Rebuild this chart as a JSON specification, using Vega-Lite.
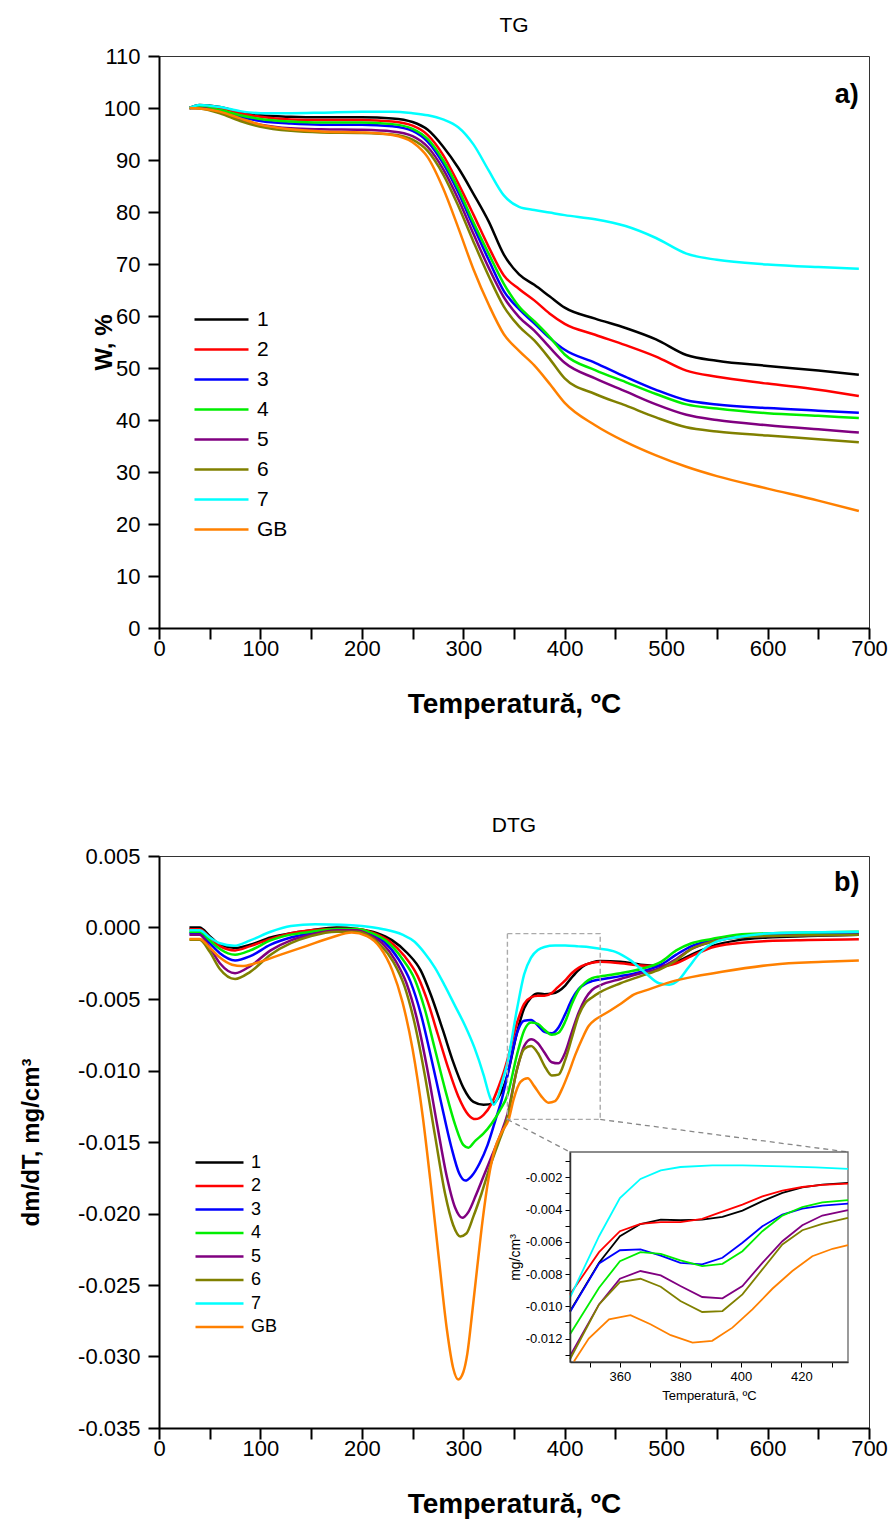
{
"$schema": "https://vega.github.io/schema/vega-lite/v6.json",
"background": "white",
"padding": {"left": 18, "top": 14, "right": 5, "bottom": 2},
"config": {
  "font": "Liberation Sans",
  "view": {"stroke": "#333", "strokeWidth": 1},
  "axis": {"grid": false, "labelColor": "#000", "titleColor": "#000", "domainColor": "#000", "tickColor": "#000", "labelFlush": false, "labelOverlap": false},
  "title": {"color": "#000", "fontWeight": "normal", "fontSize": 21, "offset": 9},
  "legend": {"padding": 0, "labelColor": "#000"}
},
"datasets": {
  "tg": [
    {"T":30,"1":100,"2":100,"3":100,"4":100,"5":100,"6":100,"7":100,"GB":100},
    {"T":40,"1":100.6,"2":100.4,"3":100.1,"4":100.2,"5":100.0,"6":99.9,"7":100.6,"GB":99.9},
    {"T":60,"1":100.2,"2":100.0,"3":99.4,"4":99.6,"5":99.2,"6":99.0,"7":100.2,"GB":99.3},
    {"T":80,"1":99.2,"2":99.0,"3":98.3,"4":98.6,"5":97.8,"6":97.5,"7":99.4,"GB":98.0},
    {"T":100,"1":98.6,"2":98.3,"3":97.5,"4":97.9,"5":96.8,"6":96.4,"7":99.0,"GB":96.8},
    {"T":130,"1":98.3,"2":97.8,"3":97.0,"4":97.4,"5":96.1,"6":95.6,"7":99.0,"GB":95.9},
    {"T":160,"1":98.2,"2":97.7,"3":96.8,"4":97.2,"5":95.9,"6":95.3,"7":99.1,"GB":95.5},
    {"T":200,"1":98.2,"2":97.7,"3":96.8,"4":97.2,"5":95.8,"6":95.2,"7":99.3,"GB":95.3},
    {"T":230,"1":98.0,"2":97.4,"3":96.5,"4":96.9,"5":95.5,"6":94.9,"7":99.3,"GB":94.8},
    {"T":250,"1":97.3,"2":96.6,"3":95.6,"4":96.0,"5":94.6,"6":93.9,"7":99.0,"GB":93.4},
    {"T":265,"1":95.8,"2":94.8,"3":93.5,"4":94.0,"5":92.5,"6":91.7,"7":98.6,"GB":90.5},
    {"T":280,"1":92.6,"2":91.0,"3":89.4,"4":90.0,"5":88.3,"6":87.3,"7":97.8,"GB":84.6},
    {"T":295,"1":88.5,"2":85.5,"3":83.8,"4":84.5,"5":82.5,"6":81.2,"7":96.3,"GB":77.0},
    {"T":310,"1":83.5,"2":79.5,"3":77.2,"4":78.0,"5":75.8,"6":74.3,"7":93.0,"GB":69.0},
    {"T":325,"1":78.2,"2":73.3,"3":70.8,"4":72.0,"5":69.3,"6":67.7,"7":88.0,"GB":62.2},
    {"T":340,"1":71.8,"2":67.8,"3":64.8,"4":66.2,"5":63.6,"6":61.8,"7":83.2,"GB":56.5},
    {"T":355,"1":68.0,"2":65.2,"3":61.3,"4":61.8,"5":59.8,"6":58.0,"7":81.0,"GB":53.3},
    {"T":370,"1":66.0,"2":63.0,"3":58.6,"4":59.0,"5":57.2,"6":55.3,"7":80.4,"GB":50.5},
    {"T":385,"1":63.8,"2":60.5,"3":55.8,"4":56.0,"5":54.0,"6":51.8,"7":79.9,"GB":47.0},
    {"T":400,"1":61.6,"2":58.5,"3":53.5,"4":52.6,"5":51.0,"6":48.0,"7":79.4,"GB":43.3},
    {"T":430,"1":59.5,"2":56.4,"3":51.0,"4":49.6,"5":48.0,"6":45.0,"7":78.6,"GB":39.0},
    {"T":460,"1":57.7,"2":54.4,"3":48.3,"4":47.3,"5":45.5,"6":42.8,"7":77.3,"GB":35.8},
    {"T":490,"1":55.5,"2":52.2,"3":45.8,"4":45.0,"5":43.0,"6":40.5,"7":75.0,"GB":33.2},
    {"T":520,"1":52.5,"2":49.5,"3":43.8,"4":43.0,"5":41.0,"6":38.6,"7":72.0,"GB":31.0},
    {"T":550,"1":51.4,"2":48.3,"3":43.0,"4":42.2,"5":40.0,"6":37.8,"7":70.8,"GB":29.2},
    {"T":600,"1":50.4,"2":47.0,"3":42.3,"4":41.3,"5":39.0,"6":37.0,"7":69.9,"GB":26.8},
    {"T":650,"1":49.5,"2":45.8,"3":41.8,"4":40.8,"5":38.2,"6":36.3,"7":69.4,"GB":24.5},
    {"T":690,"1":48.7,"2":44.6,"3":41.4,"4":40.4,"5":37.6,"6":35.7,"7":69.1,"GB":22.5}
  ],
  "dtg": [
    {"s":"1","T":30,"v":0},{"s":"1","T":40,"v":0},{"s":"1","T":50,"v":-0.0006},{"s":"1","T":60,"v":-0.0012},{"s":"1","T":75,"v":-0.00144},{"s":"1","T":90,"v":-0.0012},{"s":"1","T":110,"v":-0.0007},{"s":"1","T":130,"v":-0.0004},{"s":"1","T":150,"v":-0.0002},{"s":"1","T":175,"v":0},{"s":"1","T":195,"v":-0.0001},{"s":"1","T":215,"v":-0.0004},{"s":"1","T":230,"v":-0.0009},{"s":"1","T":245,"v":-0.0018},{"s":"1","T":258,"v":-0.003},{"s":"1","T":268,"v":-0.0047},{"s":"1","T":280,"v":-0.0072},{"s":"1","T":290,"v":-0.0094},{"s":"1","T":300,"v":-0.0112},{"s":"1","T":310,"v":-0.0122},{"s":"1","T":320,"v":-0.0124},{"s":"1","T":330,"v":-0.0123},{"s":"1","T":336,"v":-0.0117},{"s":"1","T":340,"v":-0.0111},{"s":"1","T":343.5,"v":-0.0103},{"s":"1","T":353.1,"v":-0.0073},{"s":"1","T":360,"v":-0.00565},{"s":"1","T":366.8,"v":-0.0049},{"s":"1","T":373.5,"v":-0.00462},{"s":"1","T":380,"v":-0.00466},{"s":"1","T":387.2,"v":-0.00462},{"s":"1","T":393.9,"v":-0.00445},{"s":"1","T":400.5,"v":-0.00406},{"s":"1","T":407.1,"v":-0.00348},{"s":"1","T":413.7,"v":-0.00297},{"s":"1","T":420.3,"v":-0.00262},{"s":"1","T":426.9,"v":-0.00245},{"s":"1","T":435,"v":-0.00235},{"s":"1","T":455,"v":-0.0024},{"s":"1","T":475,"v":-0.0026},{"s":"1","T":495,"v":-0.0027},{"s":"1","T":510,"v":-0.0024},{"s":"1","T":525,"v":-0.0019},{"s":"1","T":545,"v":-0.0013},{"s":"1","T":570,"v":-0.0009},{"s":"1","T":600,"v":-0.0007},{"s":"1","T":640,"v":-0.0006},{"s":"1","T":690,"v":-0.0005},
    {"s":"2","T":30,"v":-0.00012},{"s":"2","T":40,"v":-0.00012},{"s":"2","T":50,"v":-0.0007},{"s":"2","T":60,"v":-0.0013},{"s":"2","T":75,"v":-0.0016},{"s":"2","T":90,"v":-0.0013},{"s":"2","T":110,"v":-0.0008},{"s":"2","T":130,"v":-0.0004},{"s":"2","T":150,"v":-0.0002},{"s":"2","T":175,"v":-0.0001},{"s":"2","T":195,"v":-0.0001},{"s":"2","T":212,"v":-0.0004},{"s":"2","T":228,"v":-0.001},{"s":"2","T":242,"v":-0.002},{"s":"2","T":255,"v":-0.0034},{"s":"2","T":265,"v":-0.0052},{"s":"2","T":275,"v":-0.0075},{"s":"2","T":285,"v":-0.0098},{"s":"2","T":295,"v":-0.0118},{"s":"2","T":305,"v":-0.0131},{"s":"2","T":312,"v":-0.0134},{"s":"2","T":320,"v":-0.0131},{"s":"2","T":328,"v":-0.0123},{"s":"2","T":335,"v":-0.0111},{"s":"2","T":340,"v":-0.0101},{"s":"2","T":343.5,"v":-0.00926},{"s":"2","T":353.1,"v":-0.00664},{"s":"2","T":360,"v":-0.00534},{"s":"2","T":366.8,"v":-0.00489},{"s":"2","T":373.5,"v":-0.00478},{"s":"2","T":380,"v":-0.00478},{"s":"2","T":387.2,"v":-0.00458},{"s":"2","T":392.7,"v":-0.00421},{"s":"2","T":400.5,"v":-0.00369},{"s":"2","T":407.1,"v":-0.00318},{"s":"2","T":413.7,"v":-0.00282},{"s":"2","T":420.3,"v":-0.0026},{"s":"2","T":426.9,"v":-0.00247},{"s":"2","T":435,"v":-0.00239},{"s":"2","T":455,"v":-0.0025},{"s":"2","T":475,"v":-0.00265},{"s":"2","T":495,"v":-0.0027},{"s":"2","T":510,"v":-0.0025},{"s":"2","T":525,"v":-0.002},{"s":"2","T":545,"v":-0.0014},{"s":"2","T":570,"v":-0.0011},{"s":"2","T":600,"v":-0.00095},{"s":"2","T":640,"v":-0.00088},{"s":"2","T":690,"v":-0.00082},
    {"s":"3","T":30,"v":-0.0004},{"s":"3","T":40,"v":-0.0004},{"s":"3","T":50,"v":-0.0011},{"s":"3","T":60,"v":-0.0018},{"s":"3","T":75,"v":-0.0023},{"s":"3","T":90,"v":-0.002},{"s":"3","T":110,"v":-0.0012},{"s":"3","T":130,"v":-0.0007},{"s":"3","T":150,"v":-0.0004},{"s":"3","T":175,"v":-0.0002},{"s":"3","T":195,"v":-0.0002},{"s":"3","T":208,"v":-0.0004},{"s":"3","T":222,"v":-0.001},{"s":"3","T":236,"v":-0.0022},{"s":"3","T":248,"v":-0.0038},{"s":"3","T":258,"v":-0.006},{"s":"3","T":268,"v":-0.009},{"s":"3","T":278,"v":-0.0122},{"s":"3","T":288,"v":-0.0153},{"s":"3","T":296,"v":-0.0172},{"s":"3","T":302,"v":-0.0177},{"s":"3","T":308,"v":-0.0174},{"s":"3","T":316,"v":-0.0165},{"s":"3","T":324,"v":-0.0152},{"s":"3","T":332,"v":-0.0134},{"s":"3","T":338,"v":-0.012},{"s":"3","T":343.5,"v":-0.01035},{"s":"3","T":353.1,"v":-0.00734},{"s":"3","T":360,"v":-0.00652},{"s":"3","T":366.8,"v":-0.00647},{"s":"3","T":373.5,"v":-0.00685},{"s":"3","T":380,"v":-0.0073},{"s":"3","T":387.2,"v":-0.0074},{"s":"3","T":393.9,"v":-0.00699},{"s":"3","T":400.5,"v":-0.00606},{"s":"3","T":407.1,"v":-0.00503},{"s":"3","T":413.7,"v":-0.00431},{"s":"3","T":420.3,"v":-0.00394},{"s":"3","T":426.9,"v":-0.00375},{"s":"3","T":435,"v":-0.00363},{"s":"3","T":455,"v":-0.0034},{"s":"3","T":475,"v":-0.0031},{"s":"3","T":495,"v":-0.0026},{"s":"3","T":510,"v":-0.0019},{"s":"3","T":525,"v":-0.0013},{"s":"3","T":545,"v":-0.0009},{"s":"3","T":570,"v":-0.0006},{"s":"3","T":600,"v":-0.0005},{"s":"3","T":640,"v":-0.00045},{"s":"3","T":690,"v":-0.0004},
    {"s":"4","T":30,"v":-0.0003},{"s":"4","T":40,"v":-0.0003},{"s":"4","T":50,"v":-0.0009},{"s":"4","T":60,"v":-0.0015},{"s":"4","T":75,"v":-0.0019},{"s":"4","T":90,"v":-0.0016},{"s":"4","T":110,"v":-0.0009},{"s":"4","T":130,"v":-0.0005},{"s":"4","T":150,"v":-0.0003},{"s":"4","T":175,"v":-0.0001},{"s":"4","T":195,"v":-0.0001},{"s":"4","T":210,"v":-0.0004},{"s":"4","T":225,"v":-0.001},{"s":"4","T":240,"v":-0.0022},{"s":"4","T":252,"v":-0.0036},{"s":"4","T":262,"v":-0.0057},{"s":"4","T":272,"v":-0.0085},{"s":"4","T":282,"v":-0.0113},{"s":"4","T":292,"v":-0.0138},{"s":"4","T":300,"v":-0.0152},{"s":"4","T":305,"v":-0.0154},{"s":"4","T":312,"v":-0.0149},{"s":"4","T":320,"v":-0.0144},{"s":"4","T":328,"v":-0.0137},{"s":"4","T":336,"v":-0.0128},{"s":"4","T":343.5,"v":-0.01173},{"s":"4","T":353.1,"v":-0.00885},{"s":"4","T":360,"v":-0.0072},{"s":"4","T":366.8,"v":-0.00664},{"s":"4","T":373.5,"v":-0.00674},{"s":"4","T":380,"v":-0.00715},{"s":"4","T":387.2,"v":-0.0075},{"s":"4","T":393.9,"v":-0.00736},{"s":"4","T":400.5,"v":-0.00658},{"s":"4","T":407.1,"v":-0.00534},{"s":"4","T":413.7,"v":-0.00437},{"s":"4","T":420.3,"v":-0.00384},{"s":"4","T":426.9,"v":-0.00355},{"s":"4","T":435,"v":-0.00342},{"s":"4","T":455,"v":-0.0032},{"s":"4","T":475,"v":-0.0029},{"s":"4","T":495,"v":-0.0024},{"s":"4","T":510,"v":-0.0016},{"s":"4","T":525,"v":-0.0011},{"s":"4","T":545,"v":-0.0008},{"s":"4","T":570,"v":-0.0005},{"s":"4","T":600,"v":-0.0004},{"s":"4","T":640,"v":-0.00035},{"s":"4","T":690,"v":-0.0003},
    {"s":"5","T":30,"v":-0.0005},{"s":"5","T":40,"v":-0.0005},{"s":"5","T":50,"v":-0.0014},{"s":"5","T":60,"v":-0.0025},{"s":"5","T":75,"v":-0.0032},{"s":"5","T":90,"v":-0.0027},{"s":"5","T":110,"v":-0.0016},{"s":"5","T":130,"v":-0.0009},{"s":"5","T":150,"v":-0.0005},{"s":"5","T":175,"v":-0.0002},{"s":"5","T":195,"v":-0.0002},{"s":"5","T":207,"v":-0.0005},{"s":"5","T":220,"v":-0.0011},{"s":"5","T":233,"v":-0.0023},{"s":"5","T":244,"v":-0.0039},{"s":"5","T":254,"v":-0.0063},{"s":"5","T":264,"v":-0.0097},{"s":"5","T":274,"v":-0.0137},{"s":"5","T":284,"v":-0.0175},{"s":"5","T":292,"v":-0.0196},{"s":"5","T":299,"v":-0.0203},{"s":"5","T":305,"v":-0.0199},{"s":"5","T":312,"v":-0.0188},{"s":"5","T":320,"v":-0.0174},{"s":"5","T":328,"v":-0.016},{"s":"5","T":336,"v":-0.0146},{"s":"5","T":343.5,"v":-0.01307},{"s":"5","T":353.1,"v":-0.00988},{"s":"5","T":360,"v":-0.00829},{"s":"5","T":366.8,"v":-0.00781},{"s":"5","T":373.5,"v":-0.00808},{"s":"5","T":380,"v":-0.00874},{"s":"5","T":387.2,"v":-0.00942},{"s":"5","T":393.9,"v":-0.0095},{"s":"5","T":400.5,"v":-0.00874},{"s":"5","T":407.1,"v":-0.0073},{"s":"5","T":413.7,"v":-0.00596},{"s":"5","T":420.3,"v":-0.00497},{"s":"5","T":426.9,"v":-0.00437},{"s":"5","T":435,"v":-0.00404},{"s":"5","T":455,"v":-0.0036},{"s":"5","T":475,"v":-0.0032},{"s":"5","T":495,"v":-0.0028},{"s":"5","T":510,"v":-0.0022},{"s":"5","T":525,"v":-0.0015},{"s":"5","T":545,"v":-0.001},{"s":"5","T":570,"v":-0.0007},{"s":"5","T":600,"v":-0.0006},{"s":"5","T":640,"v":-0.00055},{"s":"5","T":690,"v":-0.0005},
    {"s":"6","T":30,"v":-0.00086},{"s":"6","T":40,"v":-0.00086},{"s":"6","T":50,"v":-0.0017},{"s":"6","T":60,"v":-0.0029},{"s":"6","T":75,"v":-0.0036},{"s":"6","T":90,"v":-0.0031},{"s":"6","T":110,"v":-0.0019},{"s":"6","T":130,"v":-0.0011},{"s":"6","T":150,"v":-0.0006},{"s":"6","T":175,"v":-0.0003},{"s":"6","T":195,"v":-0.0003},{"s":"6","T":205,"v":-0.0005},{"s":"6","T":218,"v":-0.0012},{"s":"6","T":231,"v":-0.0024},{"s":"6","T":242,"v":-0.0041},{"s":"6","T":252,"v":-0.0067},{"s":"6","T":262,"v":-0.0103},{"s":"6","T":272,"v":-0.0145},{"s":"6","T":282,"v":-0.0186},{"s":"6","T":290,"v":-0.0208},{"s":"6","T":297,"v":-0.0216},{"s":"6","T":303,"v":-0.0214},{"s":"6","T":310,"v":-0.0202},{"s":"6","T":318,"v":-0.0186},{"s":"6","T":326,"v":-0.0168},{"s":"6","T":335,"v":-0.015},{"s":"6","T":343.5,"v":-0.01328},{"s":"6","T":353.1,"v":-0.00988},{"s":"6","T":360,"v":-0.0085},{"s":"6","T":366.8,"v":-0.00829},{"s":"6","T":373.5,"v":-0.00878},{"s":"6","T":380,"v":-0.00967},{"s":"6","T":387.2,"v":-0.01035},{"s":"6","T":393.9,"v":-0.01029},{"s":"6","T":400.5,"v":-0.00926},{"s":"6","T":407.1,"v":-0.00771},{"s":"6","T":413.7,"v":-0.00616},{"s":"6","T":420.3,"v":-0.00528},{"s":"6","T":426.9,"v":-0.00489},{"s":"6","T":435,"v":-0.00452},{"s":"6","T":455,"v":-0.0039},{"s":"6","T":475,"v":-0.0034},{"s":"6","T":495,"v":-0.0029},{"s":"6","T":510,"v":-0.0023},{"s":"6","T":525,"v":-0.0015},{"s":"6","T":545,"v":-0.001},{"s":"6","T":570,"v":-0.0007},{"s":"6","T":600,"v":-0.0006},{"s":"6","T":640,"v":-0.00055},{"s":"6","T":690,"v":-0.0005},
    {"s":"7","T":30,"v":-0.0002},{"s":"7","T":40,"v":-0.0002},{"s":"7","T":50,"v":-0.0007},{"s":"7","T":60,"v":-0.0011},{"s":"7","T":74,"v":-0.00128},{"s":"7","T":90,"v":-0.0009},{"s":"7","T":110,"v":-0.0003},{"s":"7","T":130,"v":0.0001},{"s":"7","T":154,"v":0.00023},{"s":"7","T":180,"v":0.0002},{"s":"7","T":200,"v":0.0001},{"s":"7","T":220,"v":-0.0001},{"s":"7","T":240,"v":-0.0005},{"s":"7","T":252,"v":-0.001},{"s":"7","T":262,"v":-0.0018},{"s":"7","T":272,"v":-0.0028},{"s":"7","T":282,"v":-0.0041},{"s":"7","T":292,"v":-0.0055},{"s":"7","T":302,"v":-0.0069},{"s":"7","T":311,"v":-0.0084},{"s":"7","T":320,"v":-0.0103},{"s":"7","T":326,"v":-0.0118},{"s":"7","T":330,"v":-0.0124},{"s":"7","T":334,"v":-0.0119},{"s":"7","T":338,"v":-0.0109},{"s":"7","T":343.5,"v":-0.00946},{"s":"7","T":353.1,"v":-0.00565},{"s":"7","T":360,"v":-0.00328},{"s":"7","T":366.8,"v":-0.0021},{"s":"7","T":373.5,"v":-0.00157},{"s":"7","T":380,"v":-0.00136},{"s":"7","T":390.5,"v":-0.00126},{"s":"7","T":400.5,"v":-0.00126},{"s":"7","T":413.7,"v":-0.00132},{"s":"7","T":424.7,"v":-0.00138},{"s":"7","T":435,"v":-0.00148},{"s":"7","T":450,"v":-0.0017},{"s":"7","T":465,"v":-0.0023},{"s":"7","T":480,"v":-0.0032},{"s":"7","T":493,"v":-0.0039},{"s":"7","T":503,"v":-0.004},{"s":"7","T":512,"v":-0.0037},{"s":"7","T":522,"v":-0.0028},{"s":"7","T":533,"v":-0.0018},{"s":"7","T":549,"v":-0.001},{"s":"7","T":572,"v":-0.00065},{"s":"7","T":605,"v":-0.0004},{"s":"7","T":690,"v":-0.0003},
    {"s":"GB","T":30,"v":-0.0008},{"s":"GB","T":40,"v":-0.0008},{"s":"GB","T":50,"v":-0.0014},{"s":"GB","T":60,"v":-0.0021},{"s":"GB","T":72,"v":-0.0026},{"s":"GB","T":82,"v":-0.0027},{"s":"GB","T":95,"v":-0.0025},{"s":"GB","T":120,"v":-0.0019},{"s":"GB","T":145,"v":-0.0013},{"s":"GB","T":170,"v":-0.0007},{"s":"GB","T":190,"v":-0.00035},{"s":"GB","T":205,"v":-0.0006},{"s":"GB","T":218,"v":-0.0014},{"s":"GB","T":230,"v":-0.003},{"s":"GB","T":240,"v":-0.0052},{"s":"GB","T":250,"v":-0.0085},{"s":"GB","T":260,"v":-0.0132},{"s":"GB","T":268,"v":-0.018},{"s":"GB","T":276,"v":-0.0232},{"s":"GB","T":284,"v":-0.0282},{"s":"GB","T":290,"v":-0.0308},{"s":"GB","T":295,"v":-0.0316},{"s":"GB","T":300,"v":-0.0311},{"s":"GB","T":304,"v":-0.0298},{"s":"GB","T":309,"v":-0.0268},{"s":"GB","T":314,"v":-0.0236},{"s":"GB","T":319,"v":-0.0205},{"s":"GB","T":325,"v":-0.0175},{"s":"GB","T":331,"v":-0.0155},{"s":"GB","T":338,"v":-0.0143},{"s":"GB","T":344.8,"v":-0.01342},{"s":"GB","T":349.7,"v":-0.012},{"s":"GB","T":356.4,"v":-0.0108},{"s":"GB","T":363.5,"v":-0.01054},{"s":"GB","T":370.1,"v":-0.01111},{"s":"GB","T":376.8,"v":-0.01179},{"s":"GB","T":384,"v":-0.01225},{"s":"GB","T":390.5,"v":-0.01214},{"s":"GB","T":397.2,"v":-0.01132},{"s":"GB","T":403.8,"v":-0.01019},{"s":"GB","T":410.4,"v":-0.00891},{"s":"GB","T":417,"v":-0.00781},{"s":"GB","T":423.6,"v":-0.00689},{"s":"GB","T":430.3,"v":-0.00643},{"s":"GB","T":435.4,"v":-0.00621},{"s":"GB","T":445,"v":-0.0058},{"s":"GB","T":456,"v":-0.0053},{"s":"GB","T":468,"v":-0.0047},{"s":"GB","T":480,"v":-0.0044},{"s":"GB","T":510,"v":-0.0037},{"s":"GB","T":555,"v":-0.0031},{"s":"GB","T":605,"v":-0.0026},{"s":"GB","T":655,"v":-0.0024},{"s":"GB","T":690,"v":-0.0023}
  ],
  "ins": [
    {"s":"1","T":343.5,"v":-0.0103},{"s":"1","T":353.1,"v":-0.0073},{"s":"1","T":360,"v":-0.00565},{"s":"1","T":366.8,"v":-0.0049},{"s":"1","T":373.5,"v":-0.00462},{"s":"1","T":380,"v":-0.00466},{"s":"1","T":387.2,"v":-0.00462},{"s":"1","T":393.9,"v":-0.00445},{"s":"1","T":400.5,"v":-0.00406},{"s":"1","T":407.1,"v":-0.00348},{"s":"1","T":413.7,"v":-0.00297},{"s":"1","T":420.3,"v":-0.00262},{"s":"1","T":426.9,"v":-0.00245},{"s":"1","T":435.4,"v":-0.00235},
    {"s":"2","T":343.5,"v":-0.00926},{"s":"2","T":353.1,"v":-0.00664},{"s":"2","T":360,"v":-0.00534},{"s":"2","T":366.8,"v":-0.00489},{"s":"2","T":373.5,"v":-0.00478},{"s":"2","T":380,"v":-0.00478},{"s":"2","T":387.2,"v":-0.00458},{"s":"2","T":392.7,"v":-0.00421},{"s":"2","T":400.5,"v":-0.00369},{"s":"2","T":407.1,"v":-0.00318},{"s":"2","T":413.7,"v":-0.00282},{"s":"2","T":420.3,"v":-0.0026},{"s":"2","T":426.9,"v":-0.00247},{"s":"2","T":435.4,"v":-0.00239},
    {"s":"3","T":343.5,"v":-0.01035},{"s":"3","T":353.1,"v":-0.00734},{"s":"3","T":360,"v":-0.00652},{"s":"3","T":366.8,"v":-0.00647},{"s":"3","T":373.5,"v":-0.00685},{"s":"3","T":380,"v":-0.0073},{"s":"3","T":387.2,"v":-0.0074},{"s":"3","T":393.9,"v":-0.00699},{"s":"3","T":400.5,"v":-0.00606},{"s":"3","T":407.1,"v":-0.00503},{"s":"3","T":413.7,"v":-0.00431},{"s":"3","T":420.3,"v":-0.00394},{"s":"3","T":426.9,"v":-0.00375},{"s":"3","T":435.4,"v":-0.00363},
    {"s":"4","T":343.5,"v":-0.01173},{"s":"4","T":353.1,"v":-0.00885},{"s":"4","T":360,"v":-0.0072},{"s":"4","T":366.8,"v":-0.00664},{"s":"4","T":373.5,"v":-0.00674},{"s":"4","T":380,"v":-0.00715},{"s":"4","T":387.2,"v":-0.0075},{"s":"4","T":393.9,"v":-0.00736},{"s":"4","T":400.5,"v":-0.00658},{"s":"4","T":407.1,"v":-0.00534},{"s":"4","T":413.7,"v":-0.00437},{"s":"4","T":420.3,"v":-0.00384},{"s":"4","T":426.9,"v":-0.00355},{"s":"4","T":435.4,"v":-0.00342},
    {"s":"5","T":343.5,"v":-0.01307},{"s":"5","T":353.1,"v":-0.00988},{"s":"5","T":360,"v":-0.00829},{"s":"5","T":366.8,"v":-0.00781},{"s":"5","T":373.5,"v":-0.00808},{"s":"5","T":380,"v":-0.00874},{"s":"5","T":387.2,"v":-0.00942},{"s":"5","T":393.9,"v":-0.0095},{"s":"5","T":400.5,"v":-0.00874},{"s":"5","T":407.1,"v":-0.0073},{"s":"5","T":413.7,"v":-0.00596},{"s":"5","T":420.3,"v":-0.00497},{"s":"5","T":426.9,"v":-0.00437},{"s":"5","T":435.4,"v":-0.00404},
    {"s":"6","T":343.5,"v":-0.01328},{"s":"6","T":353.1,"v":-0.00988},{"s":"6","T":360,"v":-0.0085},{"s":"6","T":366.8,"v":-0.00829},{"s":"6","T":373.5,"v":-0.00878},{"s":"6","T":380,"v":-0.00967},{"s":"6","T":387.2,"v":-0.01035},{"s":"6","T":393.9,"v":-0.01029},{"s":"6","T":400.5,"v":-0.00926},{"s":"6","T":407.1,"v":-0.00771},{"s":"6","T":413.7,"v":-0.00616},{"s":"6","T":420.3,"v":-0.00528},{"s":"6","T":426.9,"v":-0.00489},{"s":"6","T":435.4,"v":-0.00452},
    {"s":"7","T":343.5,"v":-0.00946},{"s":"7","T":353.1,"v":-0.00565},{"s":"7","T":360,"v":-0.00328},{"s":"7","T":366.8,"v":-0.0021},{"s":"7","T":373.5,"v":-0.00157},{"s":"7","T":380,"v":-0.00136},{"s":"7","T":390.5,"v":-0.00126},{"s":"7","T":400.5,"v":-0.00126},{"s":"7","T":413.7,"v":-0.00132},{"s":"7","T":424.7,"v":-0.00138},{"s":"7","T":435.4,"v":-0.00148},
    {"s":"GB","T":344.8,"v":-0.01342},{"s":"GB","T":349.7,"v":-0.012},{"s":"GB","T":356.4,"v":-0.0108},{"s":"GB","T":363.5,"v":-0.01054},{"s":"GB","T":370.1,"v":-0.01111},{"s":"GB","T":376.8,"v":-0.01179},{"s":"GB","T":384,"v":-0.01225},{"s":"GB","T":390.5,"v":-0.01214},{"s":"GB","T":397.2,"v":-0.01132},{"s":"GB","T":403.8,"v":-0.01019},{"s":"GB","T":410.4,"v":-0.00891},{"s":"GB","T":417,"v":-0.00781},{"s":"GB","T":423.6,"v":-0.00689},{"s":"GB","T":430.3,"v":-0.00643},{"s":"GB","T":435.4,"v":-0.00621}
  ]
},
"bounds": "flush",
"spacing": 228,
"resolve": {"scale": {"color": "independent"}, "legend": {"color": "independent"}},
"vconcat": [
  {
    "title": "TG",
    "width": 710,
    "height": 572,
    "layer": [
      {
        "data": {"name": "tg"},
        "transform": [{"fold": ["1","2","3","4","5","6","7","GB"], "as": ["s","W"]}],
        "mark": {"type": "line", "strokeWidth": 2.5, "interpolate": "monotone"},
        "encoding": {
          "x": {"field": "T", "type": "quantitative", "scale": {"domain": [0,700], "nice": false, "zero": false},
            "axis": {"title": "Temperatură, ºC", "values": [0,50,100,150,200,250,300,350,400,450,500,550,600,650,700],
              "labelExpr": "datum.value % 100 === 0 ? datum.label : ''",
              "tickSize": 11, "tickWidth": 2, "domainWidth": 2, "labelFontSize": 22, "labelPadding": -1,
              "titleFontSize": 28, "titleFontWeight": "bold", "titleX": 355, "titleY": 62, "zindex": 1,
              "encode": {"ticks": {"update": {"y2": {"signal": "datum.value % 100 === 0 ? 11 : 6"}}}}}},
          "y": {"field": "W", "type": "quantitative", "scale": {"domain": [0,110], "nice": false, "zero": false},
            "axis": {"title": "W, %", "values": [0,5,10,15,20,25,30,35,40,45,50,55,60,65,70,75,80,85,90,95,100,105,110],
              "labelExpr": "datum.value % 10 === 0 ? datum.label : ''",
              "tickSize": 11, "tickWidth": 2, "domainWidth": 2, "labelFontSize": 22, "labelPadding": 8,
              "titleFontSize": 24, "titleFontWeight": "bold", "titleX": -43, "titleY": 286, "zindex": 1,
              "encode": {"ticks": {"update": {"x2": {"signal": "datum.value % 10 === 0 ? -11 : -6"}}}}}},
          "color": {"field": "s", "type": "nominal",
            "scale": {"domain": ["1","2","3","4","5","6","7","GB"], "range": ["#000000","#ff0000","#0000ff","#00ee00","#800080","#808000","#00ffff","#ff8000"]},
            "legend": {"title": null, "orient": "none", "legendX": 34, "legendY": 253, "symbolType": "M-1,0H5", "symbolSize": 324, "symbolStrokeWidth": 2.5, "labelFontSize": 21, "labelOffset": 43, "rowPadding": 8}}
        }
      },
      {
        "data": {"values": [{}]},
        "mark": {"type": "text", "text": "a)", "fontSize": 27, "fontWeight": "bold", "align": "center", "baseline": "middle", "color": "#000"},
        "encoding": {
          "x": {"datum": 678, "type": "quantitative"},
          "y": {"datum": 102.5, "type": "quantitative"}
        }
      }
    ]
  },
  {
    "title": "DTG",
    "width": 710,
    "height": 572,
    "layer": [
      {
        "layer": [
          {
            "data": {"name": "dtg"},
            "mark": {"type": "line", "strokeWidth": 2.5, "interpolate": "monotone"},
            "encoding": {
              "x": {"field": "T", "type": "quantitative", "scale": {"domain": [0,700], "nice": false, "zero": false},
                "axis": {"title": "Temperatură, ºC", "values": [0,50,100,150,200,250,300,350,400,450,500,550,600,650,700],
                  "labelExpr": "datum.value % 100 === 0 ? datum.label : ''",
                  "tickSize": 11, "tickWidth": 2, "domainWidth": 2, "labelFontSize": 22, "labelPadding": -1,
                  "titleFontSize": 28, "titleFontWeight": "bold", "titleX": 355, "titleY": 62, "zindex": 1,
                  "encode": {"ticks": {"update": {"y2": {"signal": "datum.value % 100 === 0 ? 11 : 6"}}}}}},
              "y": {"field": "v", "type": "quantitative", "scale": {"domain": [-0.035,0.005], "nice": false, "zero": false},
                "axis": {"title": "dm/dT, mg/cm³", "values": [-0.035,-0.0325,-0.03,-0.0275,-0.025,-0.0225,-0.02,-0.0175,-0.015,-0.0125,-0.01,-0.0075,-0.005,-0.0025,0,0.0025,0.005],
                  "labelExpr": "round(datum.value*2000) % 2 === 0 ? replace(format(datum.value, '.3f'), '−', '-') : ''",
                  "tickSize": 11, "tickWidth": 2, "domainWidth": 2, "labelFontSize": 22, "labelPadding": 8,
                  "titleFontSize": 24, "titleFontWeight": "bold", "titleX": -116, "titleY": 286, "zindex": 1,
                  "encode": {"ticks": {"update": {"x2": {"signal": "round(datum.value*2000) % 2 === 0 ? -11 : -6"}}}}}},
              "color": {"field": "s", "type": "nominal",
                "scale": {"domain": ["1","2","3","4","5","6","7","GB"], "range": ["#000000","#ff0000","#0000ff","#00ee00","#800080","#808000","#00ffff","#ff8000"]},
                "legend": {"title": null, "orient": "none", "legendX": 35, "legendY": 297, "symbolType": "M-1,0H5", "symbolSize": 256, "symbolStrokeWidth": 2.5, "labelFontSize": 18, "labelOffset": 38, "rowPadding": 4.5}}
            }
          },
          {
            "data": {"values": [{}]},
            "mark": {"type": "rect", "fill": null, "fillOpacity": 0, "stroke": "#aaaaaa", "strokeWidth": 1.4, "strokeDash": [5,3]},
            "encoding": {
              "x": {"datum": 343.5, "type": "quantitative"},
              "x2": {"datum": 435},
              "y": {"datum": -0.00043, "type": "quantitative"},
              "y2": {"datum": -0.01342}
            }
          },
          {
            "data": {"values": [{}]},
            "mark": {"type": "rule", "stroke": "#888888", "strokeWidth": 1.3, "strokeDash": [5,4]},
            "encoding": {
              "x": {"datum": 343.5, "type": "quantitative"},
              "x2": {"datum": 405.2},
              "y": {"datum": -0.01342, "type": "quantitative"},
              "y2": {"datum": -0.0157}
            }
          },
          {
            "data": {"values": [{}]},
            "mark": {"type": "rule", "stroke": "#888888", "strokeWidth": 1.3, "strokeDash": [5,4]},
            "encoding": {
              "x": {"datum": 435, "type": "quantitative"},
              "x2": {"datum": 679.3},
              "y": {"datum": -0.01342, "type": "quantitative"},
              "y2": {"datum": -0.0157}
            }
          },
          {
            "data": {"values": [{}]},
            "mark": {"type": "text", "text": "b)", "fontSize": 27, "fontWeight": "bold", "align": "center", "baseline": "middle", "color": "#000"},
            "encoding": {
              "x": {"datum": 678, "type": "quantitative"},
              "y": {"datum": 0.0031, "type": "quantitative"}
            }
          }
        ]
      },
      {
        "layer": [
          {
            "data": {"values": [{}]},
            "mark": {"type": "rect", "fill": "white", "stroke": "#666666", "strokeWidth": 1.3},
            "encoding": {
              "x": {"datum": 343.5, "type": "quantitative", "scale": {"domain": [343.5,435.4], "nice": false, "zero": false, "range": [411,689]}},
              "x2": {"datum": 435.4},
              "y": {"datum": -0.00043, "type": "quantitative", "scale": {"domain": [-0.01345,-0.00043], "nice": false, "zero": false, "range": [506,296]}},
              "y2": {"datum": -0.01345}
            }
          },
          {
            "data": {"name": "ins"},
            "mark": {"type": "line", "strokeWidth": 1.8},
            "encoding": {
              "x": {"field": "T", "type": "quantitative", "scale": {"domain": [343.5,435.4], "nice": false, "zero": false, "range": [411,689]},
                "axis": {"title": "Temperatură, ºC", "orient": "bottom", "offset": -66, "zindex": 2,
                  "values": [350,360,370,380,390,400,410,420,430],
                  "labelExpr": "datum.value % 20 === 0 ? datum.label : ''",
                  "tickSize": 5, "tickWidth": 1, "domainWidth": 1.5, "domainColor": "#333", "labelFontSize": 13, "labelPadding": 3,
                  "titleFontSize": 13, "titleFontWeight": "normal", "titlePadding": 6,
                  "encode": {"ticks": {"update": {"y2": {"signal": "datum.value % 20 === 0 ? 5 : 3"}}}}}},
              "y": {"field": "v", "type": "quantitative", "scale": {"domain": [-0.01345,-0.00043], "nice": false, "zero": false, "range": [506,296]},
                "axis": {"title": "mg/cm³", "orient": "left", "offset": -411, "zindex": 2,
                  "values": [-0.013,-0.012,-0.011,-0.01,-0.009,-0.008,-0.007,-0.006,-0.005,-0.004,-0.003,-0.002,-0.001],
                  "labelExpr": "round(datum.value*1000) % 2 === 0 ? replace(format(datum.value, '.3f'), '−', '-') : ''",
                  "tickSize": 5, "tickWidth": 1, "domainWidth": 1.5, "domainColor": "#333", "labelFontSize": 13, "labelPadding": 3,
                  "titleFontSize": 14, "titleFontWeight": "normal", "titlePadding": 3,
                  "encode": {"ticks": {"update": {"x2": {"signal": "round(datum.value*1000) % 2 === 0 ? -5 : -3"}}}}}},
              "color": {"field": "s", "type": "nominal",
                "scale": {"domain": ["1","2","3","4","5","6","7","GB"], "range": ["#000000","#ff0000","#0000ff","#00ee00","#800080","#808000","#00ffff","#ff8000"]}}
            }
          }
        ]
      }
    ],
    "resolve": {"scale": {"x": "independent", "y": "independent"}}
  }
]
}
